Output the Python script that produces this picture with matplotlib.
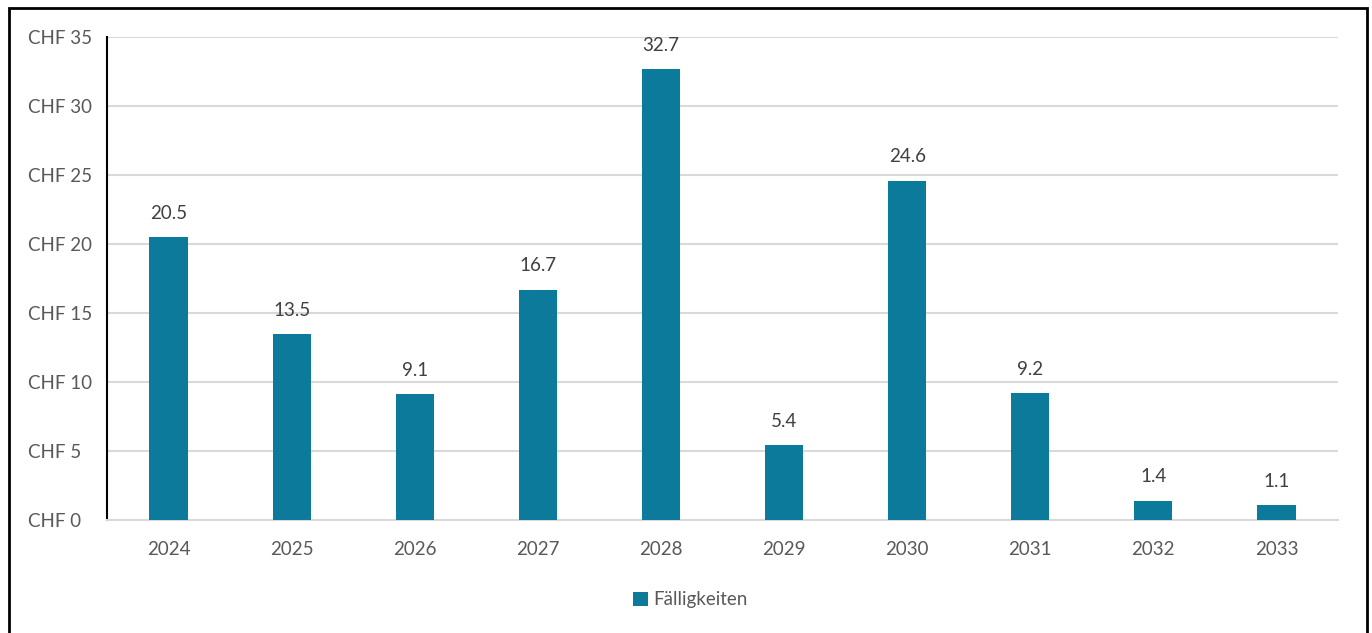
import matplotlib.pyplot as plt
import numpy as np
from matplotlib.patches import Rectangle

plt.rcParams['font.family'] = ['Lato', 'DejaVu Sans']

years = ["2024", "2025", "2026", "2027", "2028", "2029", "2030", "2031", "2032", "2033"]
faelligkeiten = [20.5, 13.5, 9.1, 16.7, 32.7, 5.4, 24.6, 9.2, 1.4, 1.1]
y_ticks = [0, 5, 10, 15, 20, 25, 30, 35]

bar_color = "#0C7A9A"
text_color = "#595959"
fs = 13.5

fig = plt.figure(figsize=(13.72, 6.33), dpi=100)
# outer frame like the excel chart border (bottom edge cut off)
fig.add_artist(Rectangle((9 / 1372, -0.05), 1358 / 1372, 1 - 8 / 633 + 0.05,
                         transform=fig.transFigure, fill=False, edgecolor="black", linewidth=2))

ax = fig.add_axes([107 / 1372, 1 - 520 / 633, (1338 - 107) / 1372, (520 - 37) / 633])
x = np.arange(len(years))
bars = ax.bar(x, faelligkeiten, width=0.31, color=bar_color, label="Fälligkeiten", zorder=3)

for xi, v in zip(x, faelligkeiten):
    ax.text(xi, v + 1.1, f"{v:.1f}", ha="center", va="bottom", fontsize=fs, color="#404040")

ax.set_xlim(-0.5, len(years) - 0.5)
ax.set_ylim(0, 35)
ax.set_xticks(x)
ax.set_xticklabels(years)
ax.set_yticks(y_ticks)
ax.set_yticklabels([f"CHF {t}" for t in y_ticks])
ax.tick_params(axis="both", length=0, labelsize=fs, labelcolor=text_color)
ax.tick_params(axis="x", pad=15)
ax.tick_params(axis="y", pad=57)  # left edge of labels at ~x=27px
for lbl in ax.get_yticklabels():
    lbl.set_horizontalalignment("left")

ax.grid(axis="y", color="#D9D9D9", linewidth=1.5, zorder=0)
ax.spines["top"].set_visible(False)
ax.spines["right"].set_visible(False)
ax.spines["left"].set_color("black")
ax.spines["left"].set_linewidth(1.5)
ax.spines["bottom"].set_color("#D9D9D9")
ax.spines["bottom"].set_linewidth(1.5)

fig.legend(handles=[bars], loc="center", bbox_to_anchor=(690 / 1372, 1 - 600 / 633),
           frameon=False, fontsize=fs, labelcolor=text_color,
           handlelength=0.8, handleheight=0.8, handletextpad=0.3)

fig.savefig("out.png", dpi=100)
